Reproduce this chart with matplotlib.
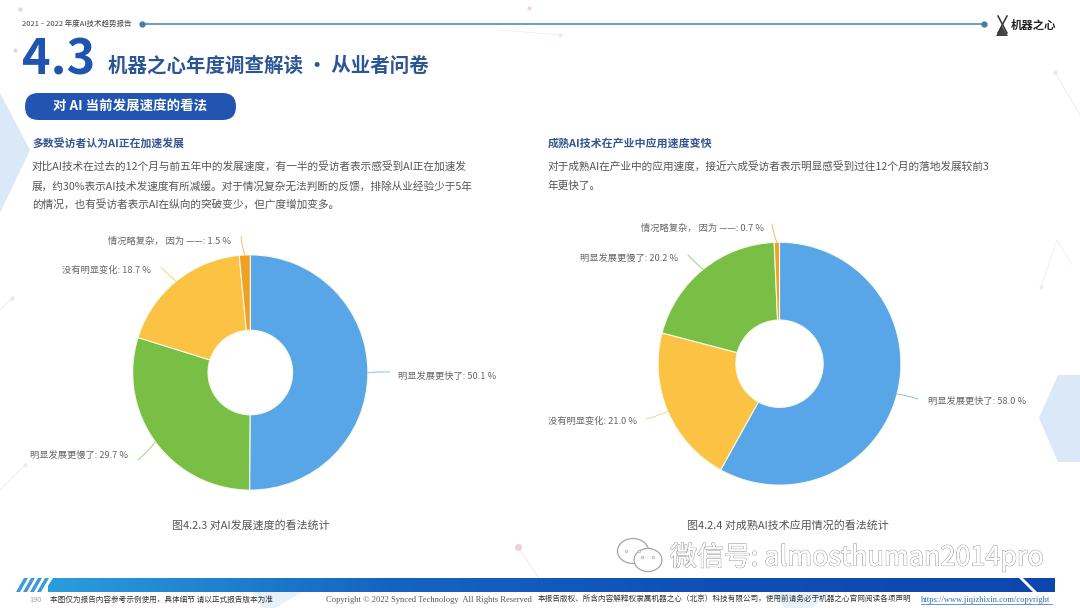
import numpy as np
import matplotlib
matplotlib.use("Agg")
import matplotlib.pyplot as plt
import matplotlib.patheffects as pe
from matplotlib.patches import FancyBboxPatch, Polygon, Ellipse

plt.rcParams['font.family'] = ['Noto Sans CJK SC', 'DejaVu Sans']

W, H = 1080, 608

# left chart
left_cats = ['明显发展更快了', '明显发展更慢了', '没有明显变化', '情况略复杂， 因为 ——']
left_vals = [50.1, 29.7, 18.7, 1.5]
left_colors = ['#58a5e8', '#79bf45', '#fbc244', '#f0a024']

# right chart
right_cats = ['明显发展更快了', '没有明显变化', '明显发展更慢了', '情况略复杂， 因为 ——']
right_vals = [58.0, 21.0, 20.2, 0.7]
right_colors = ['#58a5e8', '#fbc244', '#79bf45', '#f0a024']

# label anchors in pixels: x, y, ha
left_labels = [(398, 376, 'left'), (128, 455, 'right'), (151, 270, 'right'), (231, 241, 'right')]
left_ends = [(390, 372), (138, 460), (161, 267), (241, 237)]
right_labels = [(928, 401, 'left'), (637, 421, 'right'), (678, 258, 'right'), (764, 228, 'right')]
right_ends = [(918, 399), (646, 419), (688, 255), (772, 224)]

fig = plt.figure(figsize=(W / 100, H / 100), dpi=100, facecolor='white')

# background layer in pixel coordinates
bg = fig.add_axes([0, 0, 1, 1], zorder=0)
bg.set_xlim(0, W)
bg.set_ylim(H, 0)
bg.axis('off')

# pale shapes
pale = '#dbe8f8'
bg.add_patch(Polygon([(0, 93), (30, 150), (0, 213)], color=pale, lw=0))
bg.add_patch(Polygon([(1039, 418), (1058, 375), (1080, 375), (1080, 462), (1058, 462)], color=pale, lw=0))
bg.add_patch(Polygon([(252, 592), (302, 592), (275, 608), (262, 608)], color='#e8f0fa', lw=0))
bg.add_patch(Polygon([(770, 592), (830, 592), (812, 608), (785, 608)], color='#e8f0fa', lw=0))

# faint network lines
for xs, ys, c in [([1055, 1080], [72, 115], '#e3e8ef'),
                  ([1041, 1057, 1072], [287, 240, 265], '#e9edf2'),
                  ([518, 540], [547, 580], '#f6dfe4'),
                  ([560, 500], [35, 30], '#f8e6ea'),
                  ([12, 0], [298, 310], '#e3e8ef'),
                  ([25, 0], [465, 490], '#e9edf2')]:
    bg.plot(xs, ys, color=c, lw=0.5)
    bg.plot(xs[0], ys[0], 'o', ms=2, color=c)
bg.plot([518], [547], 'o', ms=4, color='#f5ccd5')
bg.plot([20, 15], [9, 50], 'o', ms=2, color='#d3dee6', ls='none')
bg.plot([529], [8], 'o', ms=2, color='#f5d3dc')

# header
bg.text(22, 24, '2021 – 2022 年度AI技术趋势报告', fontsize=5.4, color='#444444', va='center')
bg.plot([142, 984], [24, 24], color='#6b9fbb', lw=1.4)
bg.plot([142, 984], [24, 24], 'o', ms=3.5, color='#3f7fa8', ls='none')
bg.text(1011, 25, '机器之心', fontsize=8.2, fontweight='bold', color='#222222', va='center')
bg.plot([998, 1007], [16, 33], color='#333333', lw=1.1)
bg.plot([1007, 998], [16, 33], color='#333333', lw=1.1)
bg.add_patch(Polygon([(1002, 26), (996, 36), (1008, 36)], color='#444444', lw=0))

# titles
bg.text(22, 60, '4.3', fontsize=35, fontweight='bold', color='#1f55b0', va='center')
bg.text(108, 66, '机器之心年度调查解读 · 从业者问卷', fontsize=14, fontweight='bold', color='#2c5595', va='center')
bg.add_patch(FancyBboxPatch((25, 93), 211, 27, boxstyle='round,pad=0,rounding_size=13.5', color='#2254b2', lw=0))
bg.text(130.5, 107, '对 AI 当前发展速度的看法', fontsize=9.7, fontweight='bold', color='white', va='center', ha='center')

# text blocks
bg.text(32, 143, '多数受访者认为AI正在加速发展', fontsize=7.8, fontweight='bold', color='#34558f', va='center')
left_body = ['对比AI技术在过去的12个月与前五年中的发展速度，有一半的受访者表示感受到AI正在加速发',
             '展，约30%表示AI技术发速度有所减缓。对于情况复杂无法判断的反馈，排除从业经验少于5年',
             '的情况，也有受访者表示AI在纵向的突破变少，但广度增加变多。']
for y, line in zip([166, 186, 205], left_body):
    bg.text(32, y, line, fontsize=7.7, color='#555555', va='center')
bg.text(548, 143, '成熟AI技术在产业中应用速度变快', fontsize=7.9, fontweight='bold', color='#34558f', va='center')
right_body = ['对于成熟AI在产业中的应用速度，接近六成受访者表示明显感受到过往12个月的落地发展较前3',
              '年更快了。']
for y, line in zip([166, 186], right_body):
    bg.text(548, y, line, fontsize=7.7, color='#555555', va='center')

# captions
bg.text(251, 525, '图4.2.3 对AI发展速度的看法统计', fontsize=7.9, color='#555555', va='center', ha='center')
bg.text(788, 525, '图4.2.4 对成熟AI技术应用情况的看法统计', fontsize=7.9, color='#555555', va='center', ha='center')

# footer bar
grad = np.linspace(0, 1, 256).reshape(1, -1)
cmap = matplotlib.colors.LinearSegmentedColormap.from_list('bar', ['#2a9ddb', '#1565c0', '#0f4fb4', '#0d47ad'])
im = bg.imshow(grad, extent=(48, 1055, 592, 578), aspect='auto', cmap=cmap, zorder=2)
im.set_clip_path(Polygon([(53, 578), (1055, 578), (1055, 592), (44, 592)], transform=bg.transData))
bg.set_xlim(0, W)
bg.set_ylim(H, 0)
for x0 in [16, 23, 30, 37]:
    bg.add_patch(Polygon([(x0 + 8, 578), (x0 + 12, 578), (x0 + 4, 592), (x0, 592)], color='#3f9bd8', lw=0, zorder=3))
bg.add_patch(Polygon([(1019, 578), (1023, 578), (1037, 592), (1033, 592)], color='white', lw=0, zorder=3))

bg.text(29, 600, '190', fontsize=5.2, color='#9aa4b0', va='center')
bg.text(50, 600, '本图仅为报告内容参考示例使用，具体细节 请以正式报告版本为准', fontsize=5.5, color='#333333', va='center')
bg.text(326, 600, 'Copyright © 2022 Synced Technology  All Rights Reserved', family='Liberation Serif',
        fontsize=6.1, color='#555555', va='center')
bg.text(538, 600, '本报告版权、所含内容解释权隶属机器之心（北京）科技有限公司，使用前请务必于机器之心官网阅读各项声明',
        fontsize=5.5, color='#333333', va='center')
bg.text(921, 600, 'https://www.jiqizhixin.com/copyright', family='Liberation Serif', fontsize=6.1,
        color='#2b6cb0', va='center')
bg.plot([921, 1052], [604, 604], color='#2b6cb0', lw=0.5)


def draw_donut(cx, cy, r, inner, vals, cats, colors, labels, ends):
    ax = fig.add_axes([(cx - r) / W, 1 - (cy + r) / H, 2 * r / W, 2 * r / H], zorder=1)
    wedges, _ = ax.pie(vals, colors=colors, startangle=90, counterclock=False, radius=1,
                       wedgeprops=dict(width=1 - inner / r, edgecolor='#f4fbe8', linewidth=0.8))
    ax.set_xlim(-1, 1)
    ax.set_ylim(-1, 1)
    ax.set_aspect('auto')
    for w, cat, val, color, lab, end in zip(wedges, cats, vals, colors, labels, ends):
        a = np.radians((w.theta1 + w.theta2) / 2)
        ax.annotate('', xy=(np.cos(a), np.sin(a)), xycoords='data', xytext=end, textcoords=bg.transData,
                    annotation_clip=False,
                    arrowprops=dict(arrowstyle='-', color=color, alpha=0.7, lw=0.7, shrinkA=0, shrinkB=0,
                                    connectionstyle='arc3,rad=0.05'))
        bg.text(lab[0], lab[1], f'{cat}: {val:.1f} %', fontsize=6.7, color='#666666', ha=lab[2], va='center')


draw_donut(250.3, 372.5, 117.6, 42.3, left_vals, left_cats, left_colors, left_labels, left_ends)
draw_donut(779.5, 363.7, 121.4, 43.7, right_vals, right_cats, right_colors, right_labels, right_ends)

# watermark
over = fig.add_axes([0, 0, 1, 1], zorder=5)
over.set_xlim(0, W)
over.set_ylim(H, 0)
over.axis('off')
over.patch.set_alpha(0)
outline = [pe.withStroke(linewidth=0.9, foreground='#9a9a9a'), pe.Normal()]
over.text(670, 557, '微信号: almosthuman2014pro', fontsize=19.4, color='white', va='center', path_effects=outline)
over.add_patch(Ellipse((633, 551), 31, 25, fc='white', ec='#a5a5a5', lw=0.9))
over.add_patch(Ellipse((648, 560), 28, 23, fc='white', ec='#a5a5a5', lw=0.9))
over.plot([626, 639, 642, 653], [551, 551, 557, 557], 'o', ms=1.6, mfc='white', mec='#a5a5a5', mew=0.5, ls='none')

fig.savefig('out.png', dpi=100)
